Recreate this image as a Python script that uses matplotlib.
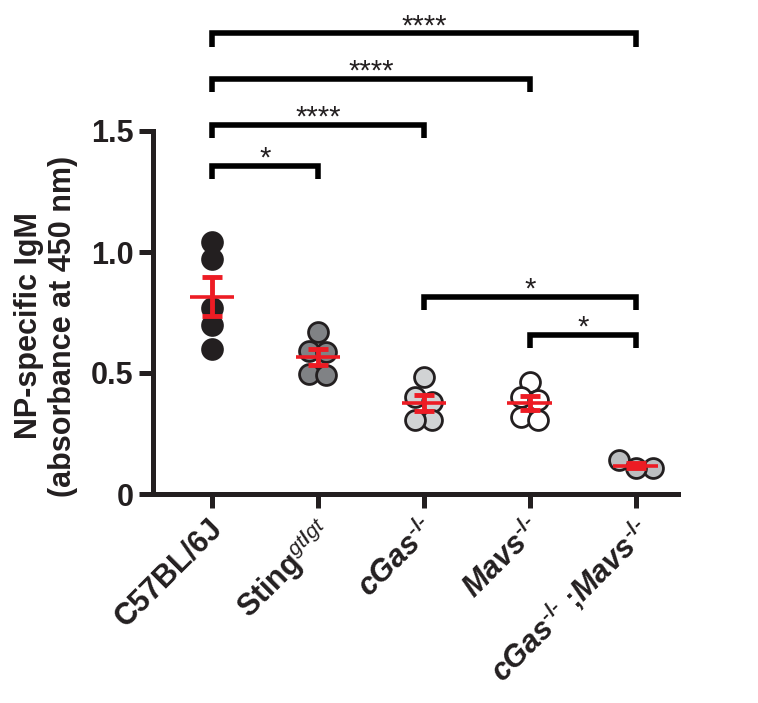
"""NP-specific IgM per genotype, dot plot with mean +/- SEM and significance brackets."""
import numpy as np
import matplotlib
matplotlib.use("Agg")
import matplotlib.pyplot as plt
import matplotlib.transforms as mtransforms

plt.rcParams["font.family"] = ["Liberation Sans", "DejaVu Sans"]
plt.rcParams["mathtext.fontset"] = "custom"
plt.rcParams["mathtext.rm"] = "Liberation Sans:bold"
plt.rcParams["mathtext.it"] = "Liberation Sans:italic"
plt.rcParams["mathtext.sf"] = "Liberation Sans:bold:italic"

# valeurs
groups = ["C57BL/6J", "Sting", "cGas", "Mavs", "cGas;Mavs"]
KO = "^{\\mathit{\u2010/\u2010}}"
tick_labels = [
    "C57BL/6J",
    r"Sting$^{\mathit{gt/gt}}$",
    r"$\mathsf{cGas}" + KO + "$",
    r"$\mathsf{Mavs}" + KO + "$",
    r"$\mathsf{cGas}" + KO + r"$ ;$\mathsf{Mavs}" + KO + "$",
]
c57 = [1.04, 0.97, 0.77, 0.70, 0.60]
sting = [0.67, 0.59, 0.585, 0.495, 0.49]
cgas = [0.485, 0.40, 0.38, 0.305, 0.305]
mavs = [0.464, 0.402, 0.388, 0.319, 0.306]
double = [0.14, 0.106, 0.106]
values = [c57, sting, cgas, mavs, double]

comparisons = [(0, 1), (0, 2), (0, 3), (0, 4), (2, 4), (3, 4)]
stars = ["*", "****", "****", "****", "*", "*"]

fills = ["#231f20", "#808285", "#d1d3d4", "#ffffff", "#bcbec0"]
RED = "#ed1c24"
INK = "#231f20"
bracket_y = [1.355, 1.525, 1.715, 1.903, 0.816, 0.657]


def swarm_offsets(vals, tol=0.05, step=0.16):
    """Place les points proches sur une même rangée, étalés symétriquement."""
    order = np.argsort(vals)[::-1]
    offsets = np.zeros(len(vals))
    rows, cur = [], []
    for i in order:
        if cur and vals[cur[0]] - vals[i] > tol:
            rows.append(cur)
            cur = []
        cur.append(i)
    rows.append(cur)
    for row in rows:
        n = len(row)
        for k, i in enumerate(row):
            offsets[i] = (k - (n - 1) / 2) * step
    return offsets


fig = plt.figure(figsize=(7.58, 7.03), dpi=100)
ax = fig.add_axes([153 / 758, 209 / 703, 525 / 758, 363 / 703])

for gi, vals in enumerate(values):
    vals = np.array(vals)
    xs = gi + swarm_offsets(vals)
    ax.scatter(xs, vals, s=205, facecolor=fills[gi], edgecolor=INK,
               linewidth=2.0, zorder=3, clip_on=False)
    m = vals.mean()
    sem = vals.std(ddof=1) / np.sqrt(len(vals))
    ax.plot([gi - 0.21, gi + 0.21], [m, m], color=RED, lw=2.6, zorder=5,
            solid_capstyle="butt")
    ax.errorbar(gi, m, yerr=sem, fmt="none", ecolor=RED, elinewidth=3.5,
                capsize=7.2, capthick=3.5, zorder=5)

for (a, b), lab, h in zip(comparisons, stars, bracket_y):
    leg = 0.054
    ax.plot([a, a, b, b], [h - leg, h, h, h - leg], color="black", lw=4.0,
            clip_on=False, solid_joinstyle="miter", solid_capstyle="butt")
    ax.text((a + b) / 2, h - 0.004, lab, ha="center", va="baseline",
            fontsize=21, color=INK, clip_on=False)

ax.set_xlim(-0.557, 4.40)
ax.set_ylim(0, 1.5)
ax.set_yticks([0, 0.5, 1.0, 1.5])
ax.set_yticklabels(["0", "0.5", "1.0", "1.5"], fontsize=22, fontweight="bold")
ax.set_xticks(range(len(groups)))
ax.set_xticklabels(tick_labels, rotation=45, ha="right", rotation_mode="anchor",
                   fontsize=22, fontweight="bold")
ax.tick_params(axis="both", length=10, width=3.6, color=INK, direction="out",
               labelcolor=INK)
ax.tick_params(axis="x", pad=3.5)
ax.tick_params(axis="y", pad=4)
shift = mtransforms.ScaledTranslation(-4 / 100, 0, fig.dpi_scale_trans)
for lbl in ax.get_xticklabels():
    lbl.set_transform(lbl.get_transform() + shift)
for side in ["top", "right"]:
    ax.spines[side].set_visible(False)
for side in ["left", "bottom"]:
    ax.spines[side].set_linewidth(3.6)
    ax.spines[side].set_color(INK)

fig.text(46 / 758, 1 - 326 / 703, "NP-specific IgM\n(absorbance at 450 nm)",
         rotation=90, ha="center", va="center", ma="center", fontsize=22,
         fontweight="bold", color=INK, linespacing=1.2)

fig.savefig("out.png", dpi=100)
